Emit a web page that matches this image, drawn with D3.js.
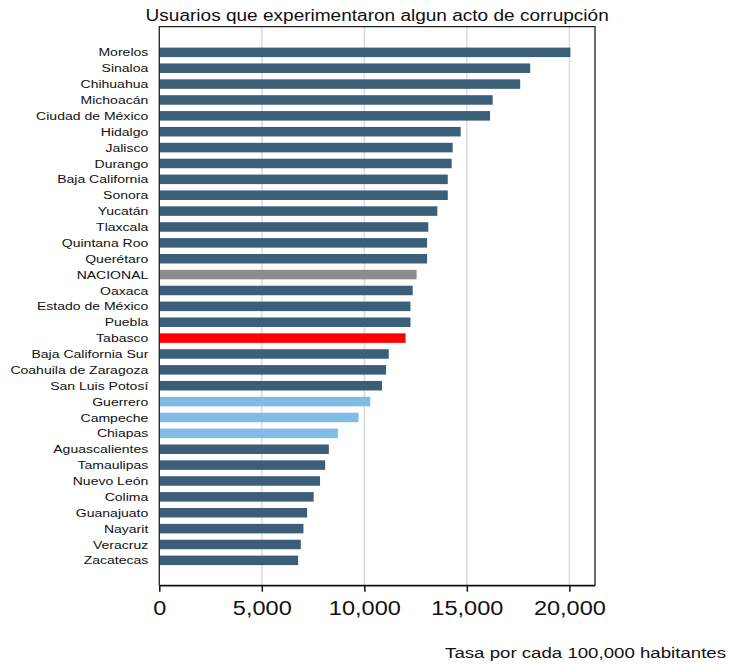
<!DOCTYPE html>
<html>
<head>
<meta charset="utf-8">
<script src="https://cdn.jsdelivr.net/npm/d3@7"></script>
<style>
  html, body { margin: 0; padding: 0; background: #fff; }
  svg { display: block; }
  text { font-family: "Liberation Sans", Arial, Helvetica, sans-serif; fill: #111; }
</style>
</head>
<body>
<svg id="chart" width="729" height="665"></svg>
<script>
const title = "Usuarios que experimentaron algun acto de corrupción";
const xTitle = "Tasa por cada 100,000 habitantes";

const estados = [
  "Morelos", "Sinaloa", "Chihuahua", "Michoacán", "Ciudad de México", "Hidalgo",
  "Jalisco", "Durango", "Baja California", "Sonora", "Yucatán", "Tlaxcala",
  "Quintana Roo", "Querétaro", "NACIONAL", "Oaxaca", "Estado de México", "Puebla",
  "Tabasco", "Baja California Sur", "Coahuila de Zaragoza", "San Luis Potosí",
  "Guerrero", "Campeche", "Chiapas", "Aguascalientes", "Tamaulipas", "Nuevo León",
  "Colima", "Guanajuato", "Nayarit", "Veracruz", "Zacatecas"
];

const tasas = [
  20050, 18090, 17600, 16260, 16130, 14700,
  14310, 14260, 14070, 14070, 13560, 13120,
  13060, 13060, 12550, 12360, 12250, 12250,
  12010, 11190, 11060, 10860,
  10290, 9720, 8710, 8270, 8090, 7840,
  7530, 7210, 7030, 6900, 6770
];

const grupos = [
  "estado", "estado", "estado", "estado", "estado", "estado",
  "estado", "estado", "estado", "estado", "estado", "estado",
  "estado", "estado", "nacional", "estado", "estado", "estado",
  "tabasco", "estado", "estado", "estado",
  "sur", "sur", "sur", "estado", "estado", "estado",
  "estado", "estado", "estado", "estado", "estado"
];

const xTicks = [0, 5000, 10000, 15000, 20000];

const data = estados.map((e, i) => ({ estado: e, tasa: tasas[i], grupo: grupos[i] }));

const SX = 1.22; // horizontal stretch of the original typography

const svg = d3.select("#chart");

const pLeft = 159.3, pRight = 595, pTop = 26.7, pBottom = 585.7;

const x = d3.scaleLinear().domain([0, 21250]).range([pLeft, pRight]);
const y = d3.scaleBand()
  .domain(estados)
  .range([44.4, 568.3])
  .paddingInner(0.4)
  .paddingOuter(0.2);

const color = d3.scaleOrdinal()
  .domain(["estado", "nacional", "tabasco", "sur"])
  .range(["#3c5f79", "#8c8c8c", "#ff0000", "#7fbde6"]);

// gridlines
svg.append("g")
  .selectAll("line")
  .data(xTicks.filter(d => d > 0))
  .join("line")
  .attr("x1", d => x(d)).attr("x2", d => x(d))
  .attr("y1", pTop).attr("y2", pBottom)
  .attr("stroke", "#dcdcdc")
  .attr("stroke-width", 1.5);

// bars
svg.append("g")
  .selectAll("rect")
  .data(data)
  .join("rect")
  .attr("x", x(0))
  .attr("y", d => y(d.estado))
  .attr("width", d => x(d.tasa) - x(0))
  .attr("height", y.bandwidth())
  .attr("fill", d => color(d.grupo));

// frame (left, top, right)
svg.append("path")
  .attr("d", `M${pLeft},${pBottom}V${pTop}H${pRight}V${pBottom}`)
  .attr("fill", "none")
  .attr("stroke", "#222")
  .attr("stroke-width", 1.3);

// category labels
svg.append("g")
  .selectAll("text")
  .data(data)
  .join("text")
  .attr("transform", d => `translate(148.3,${y(d.estado) + y.bandwidth() / 2}) scale(${SX},1)`)
  .attr("text-anchor", "end")
  .attr("dy", "0.35em")
  .attr("font-size", "11.5px")
  .text(d => d.estado);

// x axis
const xAxis = d3.axisBottom(x)
  .tickValues(xTicks)
  .tickFormat(d3.format(","))
  .tickSizeInner(6)
  .tickSizeOuter(0);

const gx = svg.append("g")
  .attr("transform", `translate(0,${pBottom})`)
  .call(xAxis);

gx.select(".domain")
  .attr("d", `M${pLeft},0H${pRight}`)
  .attr("stroke", "#111")
  .attr("stroke-width", 1.8);
gx.selectAll(".tick line").attr("stroke", "#111").attr("stroke-width", 1.5);
gx.selectAll(".tick text")
  .attr("y", 29.3)
  .attr("dy", 0)
  .attr("transform", `scale(${SX},1)`)
  .attr("font-size", "19.3px")
  .attr("font-family", "'Liberation Sans', Arial, sans-serif")
  .attr("fill", "#111");

// title
svg.append("text")
  .attr("transform", `translate(${(pLeft + pRight) / 2},20.7) scale(${SX},1)`)
  .attr("text-anchor", "middle")
  .attr("font-size", "15.6px")
  .text(title);

// x axis title
svg.append("text")
  .attr("transform", `translate(726,658) scale(${SX},1)`)
  .attr("text-anchor", "end")
  .attr("font-size", "15.3px")
  .text(xTitle);
</script>
</body>
</html>
